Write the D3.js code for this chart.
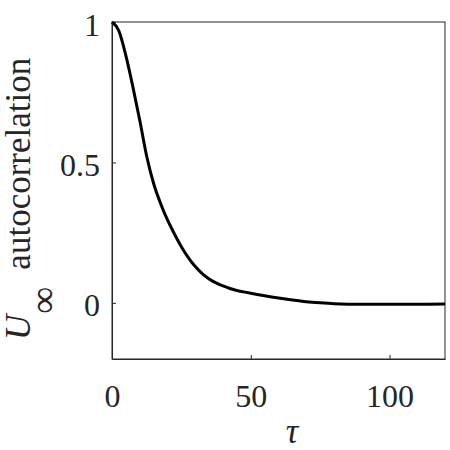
<!DOCTYPE html>
<html>
<head>
<meta charset="utf-8">
<script src="https://cdn.jsdelivr.net/npm/d3@7"></script>
<style>
  body { margin: 0; background: #fff; }
  svg { display: block; }
</style>
</head>
<body>
<script>
// lag values and autocorrelation
var tau = [0, 2.5, 5, 7.5, 10, 12.5, 15, 17.5, 20, 22.5, 25, 27.5, 30, 32.5, 35, 37.5, 40, 42.5, 45, 47.5, 50, 55, 60, 65, 70, 75, 80, 90, 100, 110, 120];
var acf = [1, 0.968, 0.88, 0.77, 0.65, 0.522, 0.425, 0.354, 0.295, 0.245, 0.2, 0.161, 0.129, 0.104, 0.085, 0.071, 0.06, 0.051, 0.044, 0.039, 0.034, 0.025, 0.017, 0.01, 0.004, 0.0, -0.003, -0.005, -0.005, -0.005, -0.004];

var xTicks = [0, 50, 100];
var yTicks = [0, 0.5, 1];

var w = 450;
var h = 450;
var margin = {top: 22, right: 5, bottom: 91, left: 112};
var axisColor = "#262626";
var serif = "'Liberation Serif', 'Times New Roman', serif";

var svg = d3.select("body").append("svg").attr("width", w).attr("height", h);

var xScale = d3.scaleLinear()
    .domain([0, 120])
    .range([margin.left, w - margin.right]);

var yScale = d3.scaleLinear()
    .domain([-0.2, 1])
    .range([h - margin.bottom, margin.top]);

// box
svg.append("rect")
    .attr("x", xScale(0))
    .attr("y", yScale(1))
    .attr("width", xScale(120) - xScale(0))
    .attr("height", yScale(-0.2) - yScale(1))
    .attr("fill", "none")
    .attr("stroke", axisColor)
    .attr("stroke-width", 1);

var xAxis = svg.append("g")
    .attr("transform", "translate(0," + yScale(-0.2) + ")")
    .call(d3.axisBottom(xScale)
      .tickValues(xTicks)
      .tickSizeInner(-4)
      .tickSizeOuter(0)
      .tickPadding(25)
      .tickFormat(d3.format("d")));

var yAxis = svg.append("g")
    .attr("transform", "translate(" + xScale(0) + ",0)")
    .call(d3.axisLeft(yScale)
      .tickValues(yTicks)
      .tickSizeInner(-4)
      .tickSizeOuter(0)
      .tickPadding(12)
      .tickFormat(function(d) { return d; }));

yAxis.selectAll("text").attr("dy", "0.41em");

[xAxis, yAxis].forEach(function(g) {
  g.select(".domain").attr("stroke", axisColor);
  g.selectAll(".tick line").attr("stroke", axisColor);
  g.selectAll("text")
    .attr("fill", axisColor)
    .style("font-family", serif)
    .style("font-size", "32px");
});

// curve
var line = d3.line()
    .x(function(d, i) { return xScale(tau[i]); })
    .y(function(d) { return yScale(d); })
    .curve(d3.curveMonotoneX);

svg.append("path")
    .datum(acf)
    .attr("d", line)
    .attr("fill", "none")
    .attr("stroke", "#000")
    .attr("stroke-width", 3)
    .attr("stroke-linejoin", "round");

// axis labels
svg.append("text")
    .attr("x", 292)
    .attr("y", 443)
    .attr("text-anchor", "middle")
    .attr("fill", axisColor)
    .style("font-family", serif)
    .style("font-style", "italic")
    .style("font-size", "35px")
    .text("τ");

var yLab = svg.append("text")
    .attr("transform", "translate(30,340) rotate(-90)")
    .attr("text-anchor", "start")
    .attr("fill", axisColor)
    .style("font-family", serif)
    .style("font-size", "35px");

yLab.append("tspan")
    .style("font-style", "italic")
    .text("U");
yLab.append("tspan")
    .attr("dy", 26)
    .attr("dx", 1)
    .style("font-size", "38px")
    .text("∞");
yLab.append("tspan")
    .attr("dy", -26)
    .attr("dx", 17)
    .text("autocorrelation");
</script>
</body>
</html>
